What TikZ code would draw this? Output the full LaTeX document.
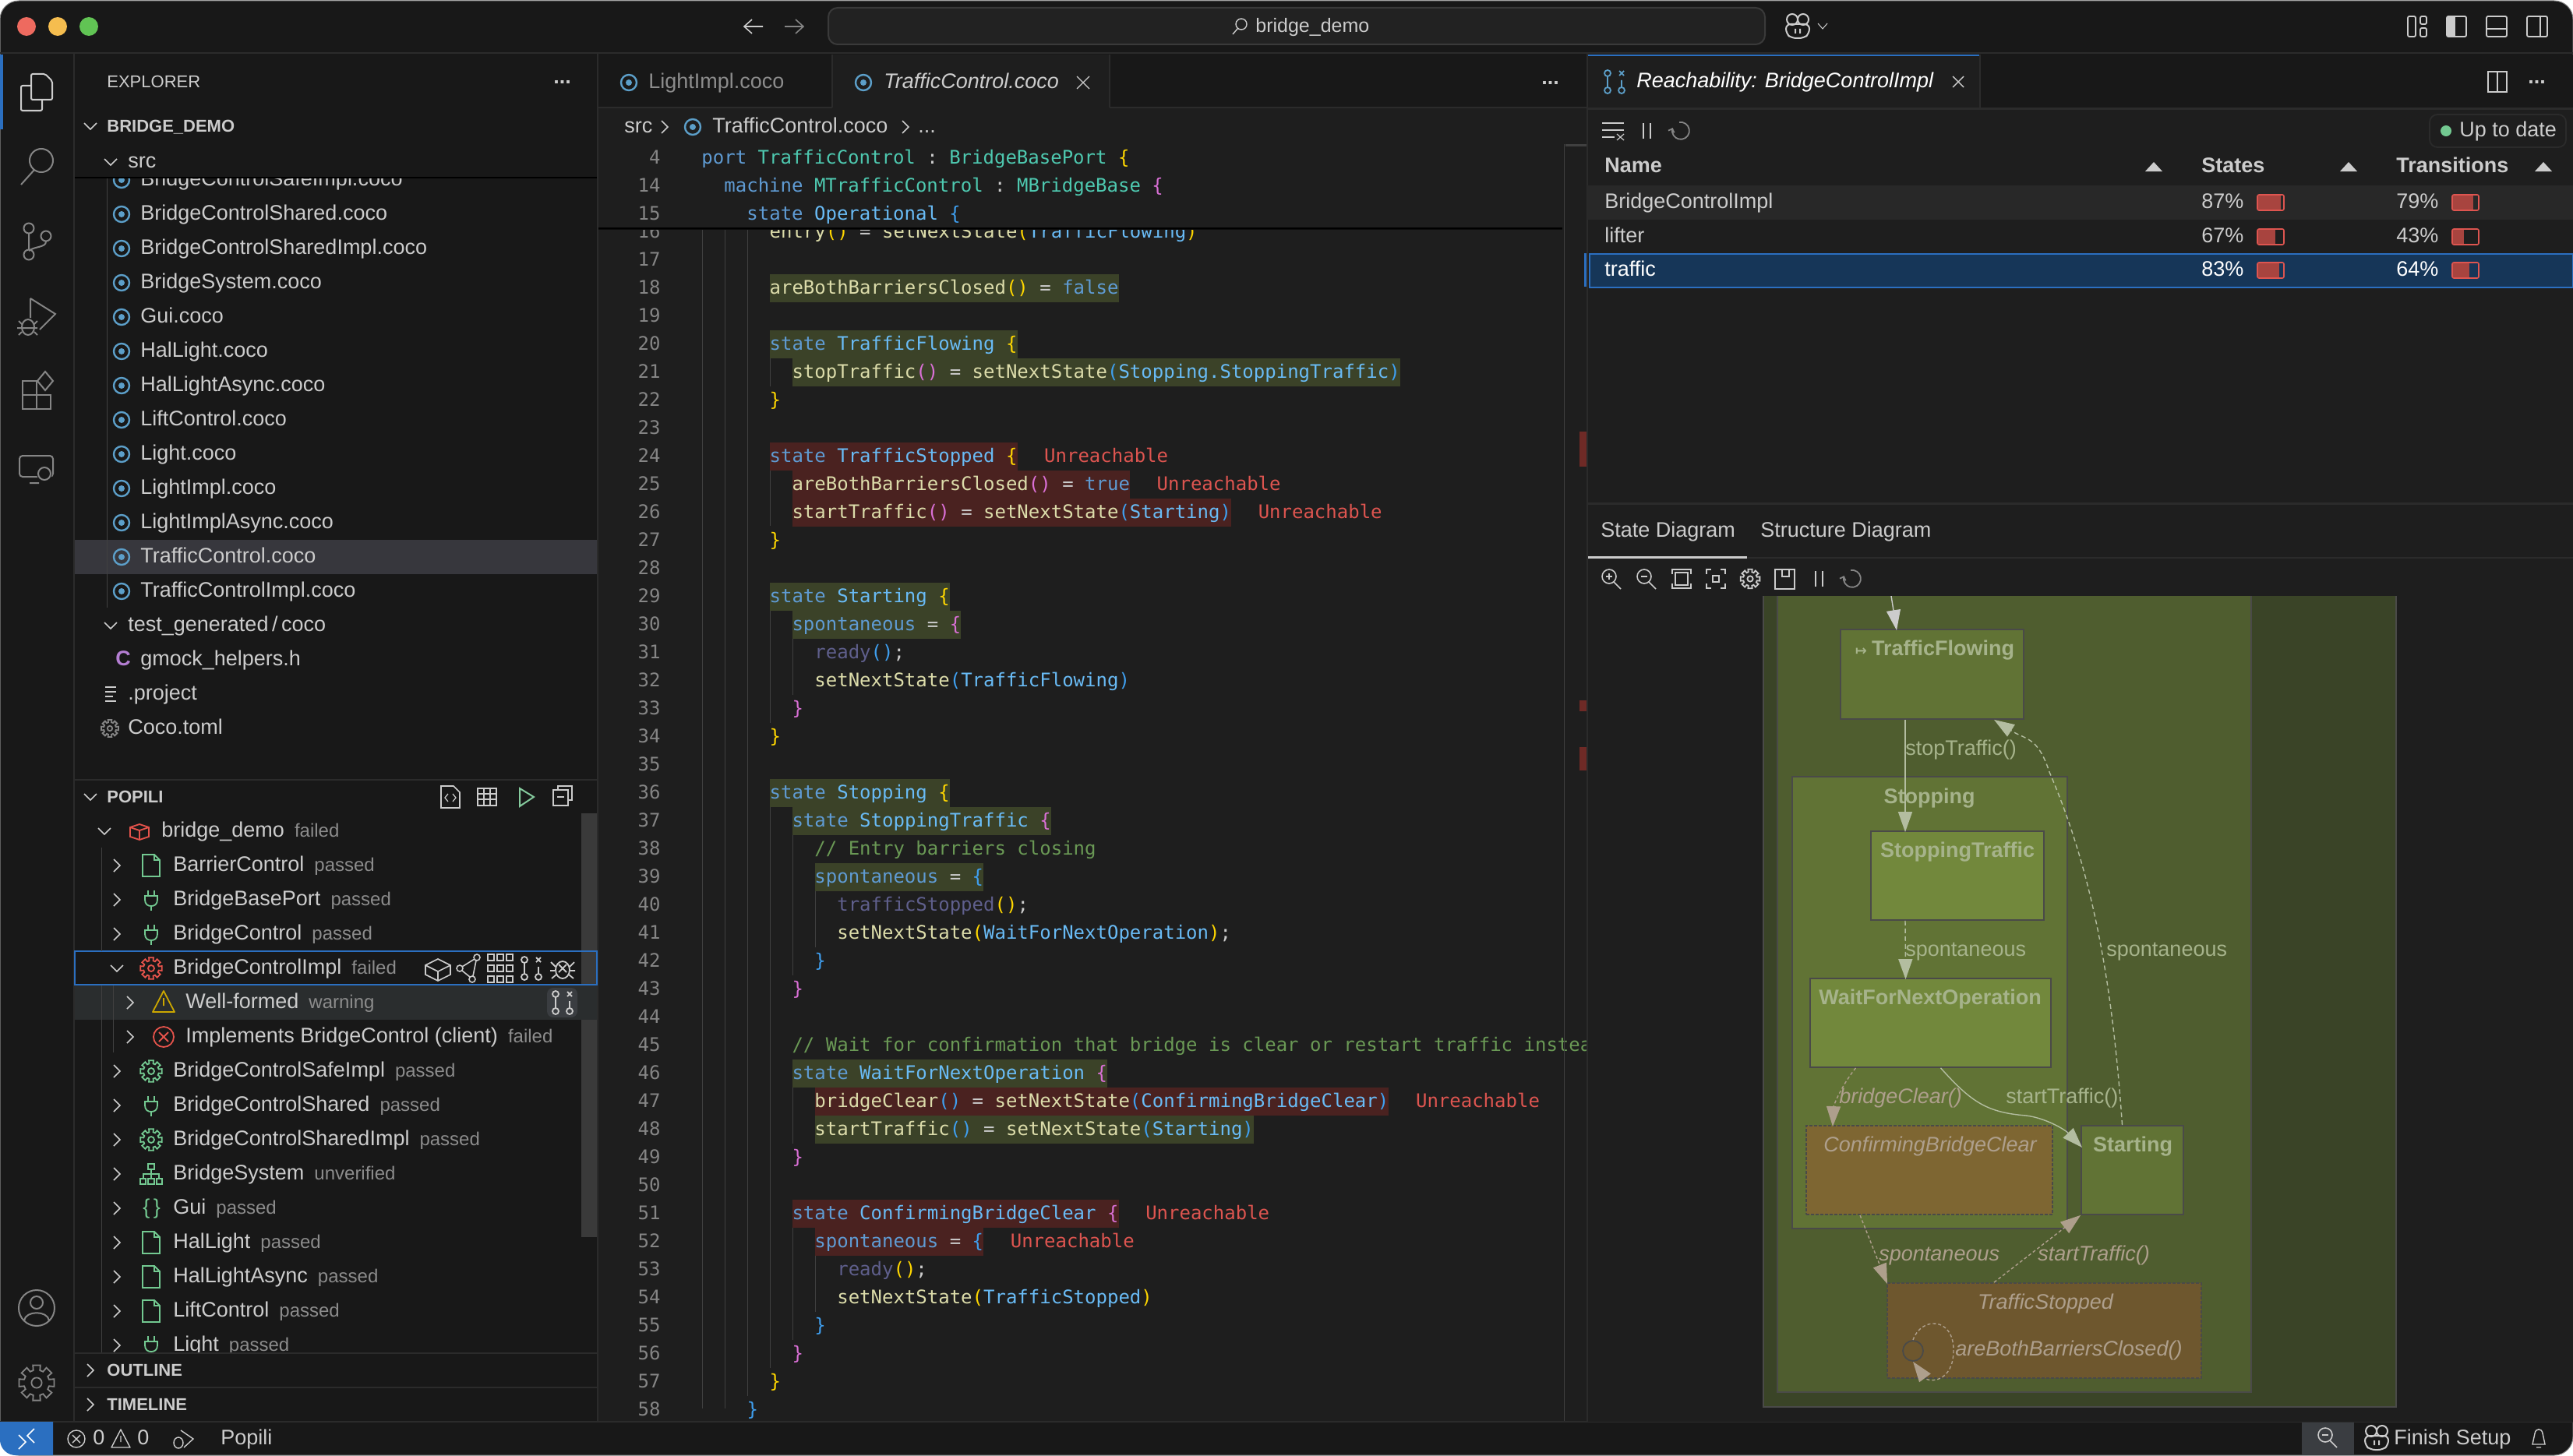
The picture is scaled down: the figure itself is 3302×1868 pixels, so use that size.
\documentclass[tikz,border=0pt]{standalone}
\usepackage{fontspec}
\setmainfont{Liberation Sans}
\setmonofont[Ligatures=NoCommon]{DejaVu Sans Mono}
\newfontfamily\symfont{DejaVu Sans}
\usetikzlibrary{arrows.meta,fit}

\definecolor{winbg}{HTML}{181818}
\definecolor{edbg}{HTML}{1E1E1E}
\definecolor{rule}{HTML}{2B2B2B}
\definecolor{uitext}{HTML}{CCCCCC}
\definecolor{uidim}{HTML}{8C8C8C}
\definecolor{uiicon}{HTML}{858585}
\definecolor{focus}{HTML}{2B6FC0}
\definecolor{cocoblue}{HTML}{5C9FC9}
\definecolor{icgreen}{HTML}{73C991}
\definecolor{icred}{HTML}{E5534B}
\definecolor{icyellow}{HTML}{CCA700}
\definecolor{hlgreen}{HTML}{3B4228}
\definecolor{hlred}{HTML}{4A2220}
\definecolor{ovred}{HTML}{6E2A26}
\definecolor{codeKw}{HTML}{5F9BD3}
\definecolor{codeNm}{HTML}{69BBF5}
\definecolor{codeTy}{HTML}{4EC9B0}
\definecolor{codeFn}{HTML}{DCDCAA}
\definecolor{codePu}{HTML}{CCCCCC}
\definecolor{codeYe}{HTML}{FFD700}
\definecolor{codePk}{HTML}{DA70D6}
\definecolor{codeBl}{HTML}{3F9FEF}
\definecolor{codeCm}{HTML}{6A9955}
\definecolor{codeDm}{HTML}{5F5F8C}
\definecolor{codeUn}{HTML}{DE5550}
\definecolor{lineno}{HTML}{858585}
\definecolor{guide}{HTML}{404040}
\definecolor{rowsel}{HTML}{163658}
\definecolor{rowalt}{HTML}{282828}
\definecolor{barfill}{HTML}{A8443F}
\definecolor{fileactive}{HTML}{37373D}
\definecolor{rowhover}{HTML}{2A2D2E}
\definecolor{rowbtn}{HTML}{3A3D41}
\definecolor{sbthumb}{HTML}{3A3A3A}
\definecolor{cmdbg}{HTML}{222222}
\definecolor{cmdline}{HTML}{3A3A3A}
\definecolor{lightred}{HTML}{EE6A5F}
\definecolor{lightamber}{HTML}{F5BD4F}
\definecolor{lightgreen}{HTML}{61C454}
\definecolor{stouter}{HTML}{3A4427}
\definecolor{stinner}{HTML}{4F5D2F}
\definecolor{stmid}{HTML}{617335}
\definecolor{stlight}{HTML}{72883C}
\definecolor{stbrown}{HTML}{7E6632}
\definecolor{stdark}{HTML}{6E572E}
\definecolor{stline}{HTML}{4A4A48}
\definecolor{sttxt}{HTML}{A6B38B}
\definecolor{stedge}{HTML}{B3BDA0}
\definecolor{stwarm}{HTML}{AE9F8C}

\newcommand{\uifont}{\fontsize{13.5}{16}\selectfont}
\newcommand{\dimfont}{\fontsize{12}{14}\selectfont}
\newcommand{\capfont}{\fontsize{11}{13}\selectfont}
\newcommand{\cKw}[1]{\textcolor{codeKw}{#1}}
\newcommand{\cNm}[1]{\textcolor{codeNm}{#1}}
\newcommand{\cTy}[1]{\textcolor{codeTy}{#1}}
\newcommand{\cFn}[1]{\textcolor{codeFn}{#1}}
\newcommand{\cPu}[1]{\textcolor{codePu}{#1}}
\newcommand{\cYe}[1]{\textcolor{codeYe}{#1}}
\newcommand{\cPk}[1]{\textcolor{codePk}{#1}}
\newcommand{\cBl}[1]{\textcolor{codeBl}{#1}}
\newcommand{\cCm}[1]{\textcolor{codeCm}{#1}}
\newcommand{\cDm}[1]{\textcolor{codeDm}{#1}}
\newcommand{\codeln}[3]{\node[codetext] (code#1) at ({900.5+14.45*#2},{332+36*(#1-17)}) {#3};}
\newcommand{\unreach}[2]{\node[codetext,text=codeUn] (unreach#1) at ({900.5+14.45*#2},{332+36*(#1-17)}) {Unreachable};}
\newcommand{\hlite}[4]{\fill[#1] ({901+14.45*#3},{316+36*(#2-17)}) rectangle ({901+14.45*#4},{352+36*(#2-17)});}
\newcommand{\cocoic}[2]{\draw[cocoblue,line width=1.2pt] (#1,#2) circle (10);\fill[cocoblue] (#1,#2) circle (4);}
\newcommand{\chevright}[2]{\draw[uitext,line width=.8pt] ({#1-4},{#2-8}) -- ({#1+4},#2) -- ({#1-4},{#2+8});}
\newcommand{\chevdown}[2]{\draw[uitext,line width=.8pt] ({#1-8},{#2-4}) -- (#1,{#2+4}) -- ({#1+8},{#2-4});}
\newcommand{\fileic}[3]{\begin{scope}[shift={(#1,#2)},color=#3,line width=.9pt]
  \draw (-11,-14) -- (4,-14) -- (11,-7) -- (11,14) -- (-11,14) -- cycle;
  \draw (4,-14) -- (4,-7) -- (11,-7);
\end{scope}}
\newcommand{\plugic}[3]{\begin{scope}[shift={(#1,#2)},color=#3,line width=.9pt]
  \draw (-8,-5) -- (8,-5) -- (8,0) .. controls (8,6) and (4,8) .. (0,8) .. controls (-4,8) and (-8,6) .. (-8,0) -- cycle;
  \draw (-4,-5) -- (-4,-12) (4,-5) -- (4,-12) (0,8) -- (0,14);
\end{scope}}
\newcommand{\gearic}[4][1]{\begin{scope}[shift={(#2,#3)},scale=#1,color=#4,line width=.9pt]
  \draw (-12:14) \foreach \a in {0,45,...,315} { -- (\a-12:14) -- (\a+12:14) -- (\a+15:10) -- (\a+30:10) } -- cycle;
  \draw (0,0) circle (4);
\end{scope}}
\newcommand{\treeic}[3]{\begin{scope}[shift={(#1,#2)},color=#3,line width=.9pt]
  \draw (-4,-13) rectangle (4,-6) (-14,6) rectangle (-7,13) (-4,6) rectangle (4,13) (7,6) rectangle (14,13);
  \draw (0,-6) -- (0,6) (-10,6) -- (-10,0) -- (10,0) -- (10,6);
\end{scope}}
\newcommand{\braceic}[3]{\node[uilabel,text=#3] (brace#2) at ({#1-11},#2) {\{\,\}};}
\newcommand{\reachic}[3]{\begin{scope}[shift={(#1,#2)},color=#3,line width=.9pt]
  \draw (-9,-11) circle (4) (-9,11) circle (4) (9,11) circle (4) (-9,-7) -- (-9,7) (9,-2) -- (9,7);
  \draw (6,-14) -- (12,-8) (12,-14) -- (6,-8);
\end{scope}}
\newcommand{\bugic}[3]{\begin{scope}[shift={(#1,#2)},color=#3,line width=.9pt]
  \draw (0,2) ellipse (9 and 11);
  \draw (-5,-5) -- (5,5) (5,-5) -- (-5,5);
  \draw (-9,-2) -- (-15,-8) (9,-2) -- (15,-8) (-10,3) -- (-16,3) (10,3) -- (16,3) (-8,8) -- (-14,13) (8,8) -- (14,13);
\end{scope}}
\newcommand{\zoomic}[3]{\begin{scope}[shift={(#1,#2)},color=uitext,line width=.8pt]
  \draw (-3,-3) circle (9) (3,4) -- (12,13);
  \draw (-7,-3) -- (1,-3);
  \ifnum#3=1 \draw (-3,-7) -- (-3,1);\fi
\end{scope}}
\newcommand{\copilotic}[2]{\begin{scope}[shift={(#1,#2)},color=uitext,line width=1pt]
  \draw[rounded corners=3pt] (-15,-3) -- (-15,9) -- (-8,15) -- (8,15) -- (15,9) -- (15,-3) -- cycle;
  \draw (-7,-9) circle (7) (7,-9) circle (7);
  \fill (-4,3) rectangle (-2,9) (2,3) rectangle (4,9);
\end{scope}}
\newcommand{\refreshic}[2]{\draw[uiicon,line width=.9pt,-{Straight Barb[length=2pt]}] ({#1-2},{#2-11}) arc (-100:200:11);}

\begin{document}
\begin{tikzpicture}[x=.5pt,y=-.5pt,
  uilabel/.style = {anchor=base west,inner sep=0pt,yshift=-3.75pt,font=\uifont,text=uitext},
  capslabel/.style = {uilabel,font=\capfont},
  headlabel/.style = {uilabel,font=\capfont\bfseries},
  codetext/.style = {anchor=base west,inner sep=0pt,yshift=-4.5pt,font=\ttfamily\fontsize{12}{14}\selectfont,text=codePu},
  numtext/.style = {anchor=base east,inner sep=0pt,yshift=-4.5pt,font=\ttfamily\fontsize{12}{14}\selectfont,text=lineno},
  stbox/.style = {draw=stline,line width=.9pt,inner sep=0pt},
  stunreach/.style = {stbox,dash pattern=on 2pt off 1pt},
  sttitle/.style = {inner sep=0pt,yshift=-.75pt,font=\uifont\bfseries,text=sttxt},
  stlabel/.style = {uilabel,text=sttxt},
  stwarmlabel/.style = {uilabel,font=\uifont\itshape,text=stwarm},
  trans/.style = {line width=.7pt,draw=#1,-{Triangle[length=13pt,width=9pt,fill=#1]}}]

  \useasboundingbox (0,0) rectangle (3302,1868);
  \fill[white] (0,0) rectangle (3302,1868);
  \fill[winbg,draw=uiicon,line width=.5pt,rounded corners=12pt] (0,1) rectangle (3302,1868);

  \draw[rule,line width=1pt] (0,68) -- (3302,68);
  \draw[rule,line width=1pt] (0,1825) -- (3302,1825);
  \draw[rule,line width=1pt] (95,68) -- (95,1825);
  \draw[rule,line width=1pt] (767,68) -- (767,1825);

  \fill[edbg] (768,138) rectangle (2037,1824);
  \draw[rule,line width=1pt] (768,138) -- (1068,138) (1424,138) -- (2037,138);
  \fill[edbg] (1068,70) rectangle (1424,139);
  \draw[rule,line width=1pt] (1068,70) -- (1068,138) (1424,70) -- (1424,138);

  \foreach \n in {16,...,58} {
    \node[numtext] (num\n) at (848,{332+36*(\n-17)}) {\n};
  }
  \draw[guide,line width=.5pt] (901,292) -- (901,1808) (930,292) -- (930,1808) (959,292) -- (959,1792);
  \draw[guide,line width=.5pt] (988,460) -- (988,496) (988,604) -- (988,675) (988,784) -- (988,928) (988,1036) -- (988,1756);
  \draw[guide,line width=.5pt] (1017,820) -- (1017,892) (1017,1071) -- (1017,1252) (1017,1396) -- (1017,1468) (1017,1576) -- (1017,1720);
  \draw[guide,line width=.5pt] (1046,1144) -- (1046,1216) (1046,1612) -- (1046,1684);

  \hlite{hlgreen}{18}{6}{37}
  \hlite{hlgreen}{20}{6}{28}
  \hlite{hlgreen}{21}{8}{62}
  \hlite{hlred}{24}{6}{28}
  \hlite{hlred}{25}{8}{38}
  \hlite{hlred}{26}{8}{47}
  \hlite{hlgreen}{29}{6}{22}
  \hlite{hlgreen}{30}{8}{23}
  \hlite{hlgreen}{36}{6}{22}
  \hlite{hlgreen}{37}{8}{31}
  \hlite{hlgreen}{39}{10}{25}
  \hlite{hlgreen}{46}{8}{36}
  \hlite{hlred}{47}{10}{61}
  \hlite{hlgreen}{48}{10}{49}
  \hlite{hlred}{51}{8}{37}
  \hlite{hlred}{52}{10}{25}

  \codeln{16}{6}{\cFn{entry}\cYe{()} = \cFn{setNextState}\cYe{(}\cNm{TrafficFlowing}\cYe{)}}
  \codeln{18}{6}{\cFn{areBothBarriersClosed}\cYe{()} = \cKw{false}}
  \codeln{20}{6}{\cKw{state} \cNm{TrafficFlowing} \cYe{\{}}
  \codeln{21}{8}{\cFn{stopTraffic}\cPk{()} = \cFn{setNextState}\cBl{(}\cNm{Stopping.StoppingTraffic}\cBl{)}}
  \codeln{22}{6}{\cYe{\}}}
  \codeln{24}{6}{\cKw{state} \cNm{TrafficStopped} \cYe{\{}}
  \codeln{25}{8}{\cFn{areBothBarriersClosed}\cPk{()} = \cKw{true}}
  \codeln{26}{8}{\cFn{startTraffic}\cPk{()} = \cFn{setNextState}\cBl{(}\cNm{Starting}\cBl{)}}
  \codeln{27}{6}{\cYe{\}}}
  \codeln{29}{6}{\cKw{state} \cNm{Starting} \cYe{\{}}
  \codeln{30}{8}{\cKw{spontaneous} = \cPk{\{}}
  \codeln{31}{10}{\cDm{ready}\cBl{()};}
  \codeln{32}{10}{\cFn{setNextState}\cBl{(}\cNm{TrafficFlowing}\cBl{)}}
  \codeln{33}{8}{\cPk{\}}}
  \codeln{34}{6}{\cYe{\}}}
  \codeln{36}{6}{\cKw{state} \cNm{Stopping} \cYe{\{}}
  \codeln{37}{8}{\cKw{state} \cNm{StoppingTraffic} \cPk{\{}}
  \codeln{38}{10}{\cCm{// Entry barriers closing}}
  \codeln{39}{10}{\cKw{spontaneous} = \cBl{\{}}
  \codeln{40}{12}{\cDm{trafficStopped}\cYe{()};}
  \codeln{41}{12}{\cFn{setNextState}\cYe{(}\cNm{WaitForNextOperation}\cYe{)};}
  \codeln{42}{10}{\cBl{\}}}
  \codeln{43}{8}{\cPk{\}}}
  \codeln{45}{8}{\cCm{// Wait for confirmation that bridge is clear or restart traffic instea}}
  \codeln{46}{8}{\cKw{state} \cNm{WaitForNextOperation} \cPk{\{}}
  \codeln{47}{10}{\cFn{bridgeClear}\cBl{()} = \cFn{setNextState}\cBl{(}\cNm{ConfirmingBridgeClear}\cBl{)}}
  \codeln{48}{10}{\cFn{startTraffic}\cBl{()} = \cFn{setNextState}\cBl{(}\cNm{Starting}\cBl{)}}
  \codeln{49}{8}{\cPk{\}}}
  \codeln{51}{8}{\cKw{state} \cNm{ConfirmingBridgeClear} \cPk{\{}}
  \codeln{52}{10}{\cKw{spontaneous} = \cBl{\{}}
  \codeln{53}{12}{\cDm{ready}\cYe{()};}
  \codeln{54}{12}{\cFn{setNextState}\cYe{(}\cNm{TrafficStopped}\cYe{)}}
  \codeln{55}{10}{\cBl{\}}}
  \codeln{56}{8}{\cPk{\}}}
  \codeln{57}{6}{\cYe{\}}}
  \codeln{58}{4}{\cBl{\}}}
  \unreach{24}{30.4}
  \unreach{25}{40.4}
  \unreach{26}{49.4}
  \unreach{47}{63.4}
  \unreach{51}{39.4}
  \unreach{52}{27.4}

  \fill[edbg] (768,139) rectangle (2005,292);
  \fill[black] (768,292) rectangle (2005,294);
  \fill[black!60!edbg] (768,294) rectangle (2005,295);
  \foreach \n/\y in {4/201,14/237,15/273} {
    \node[numtext] (sticky\n) at (848,\y) {\n};
  }
  \node[codetext] (stickyport) at (900,201) {\cKw{port} \cTy{TrafficControl} : \cTy{BridgeBasePort} \cYe{\{}};
  \node[codetext] (stickymachine) at (929,237) {\cKw{machine} \cTy{MTrafficControl} : \cTy{MBridgeBase} \cPk{\{}};
  \node[codetext] (stickystate) at (958,273) {\cKw{state} \cNm{Operational} \cBl{\{}};

  \node[uilabel,text=uidim] (tabone) at (832,106) {LightImpl.coco};
  \node[uilabel,font=\uifont\itshape] (tabtwo) at (1134,106) {TrafficControl.coco};
  \cocoic{807}{106}
  \cocoic{1108}{106}
  \draw[uitext,line width=.6pt] (1382,98) -- (1398,114) (1398,98) -- (1382,114);
  \node[uilabel,text=uitext] (tabmore) at (1978,101) {\textbf{...}};
  \node[uilabel] (crumbsrc) at (801,163) {src};
  \chevright{853}{163}
  \cocoic{889}{163}
  \node[uilabel] (crumbfile) at (914,163) {TrafficControl.coco};
  \chevright{1162}{163}
  \node[uilabel] (crumbmore) at (1178,163) {...};

  \draw[guide,line width=.4pt] (2007,185) -- (2007,1824);
  \fill[guide] (2009,185) rectangle (2037,188);
  \fill[focus] (2033,325) rectangle (2037,368);
  \fill[ovred] (2027,554) rectangle (2037,599);
  \fill[ovred] (2027,899) rectangle (2037,913);
  \fill[ovred] (2027,959) rectangle (2037,989);

  \fill[edbg] (2037,70) rectangle (3302,1825);
  \fill[winbg] (2037,70) rectangle (3302,138);
  \fill[edbg] (2037,70) rectangle (2541,139);
  \fill[focus] (2037,70) rectangle (2541,72);
  \draw[rule,line width=1pt] (2541,70) -- (2541,139);
  \draw[rule,line width=1.5pt] (2037,140) -- (3302,140);
  \draw[rule,line width=1pt] (2037,68) -- (2037,1825);
  \reachic{2072}{105}{cocoblue}
  \node[uilabel,font=\uifont\itshape,text=white] (reachtitle) at (2100,105) {Reachability: BridgeControlImpl};
  \draw[uitext,line width=.7pt] (2506,98) -- (2520,112) (2520,98) -- (2506,112);
  \draw[uitext,line width=.8pt] (3193,92) rectangle (3217,118) (3205,92) -- (3205,118);
  \node[uilabel] (reachmore) at (3244,100) {\textbf{...}};

  \draw[uitext,line width=.8pt] (2056,158) -- (2084,158) (2056,167) -- (2084,167) (2056,176) -- (2072,176);
  \draw[uitext,line width=.6pt] (2075,172) -- (2084,180) (2084,172) -- (2075,180);
  \draw[uitext,line width=.9pt] (2109,158) -- (2109,178) (2118,158) -- (2118,178);
  \refreshic{2157}{168}
  \fill[edbg,draw=rule,line width=.9pt,rounded corners=5pt] (3118,147) rectangle (3293,189);
  \fill[icgreen] (3139,168) circle (7);
  \node[uilabel] (uptodate) at (3156,168) {Up to date};

  \node[uilabel,font=\uifont\bfseries] (colname) at (2059,214) {Name};
  \node[uilabel,font=\uifont\bfseries] (colstates) at (2825,214) {States};
  \node[uilabel,font=\uifont\bfseries] (coltrans) at (3075,214) {Transitions};
  \foreach \x in {2764,3014,3264} {
    \fill[uitext] ({\x-11},220) -- ({\x+11},220) -- (\x,208) -- cycle;
  }
  \fill[rowalt] (2037,238) rectangle (3302,282);
  \fill[rowsel] (2040,326) rectangle (3302,369);
  \draw[focus,line width=1pt] (2040,326) rectangle (3302,369);
  \foreach \y/\rowt/\spc/\sfr/\tpc/\tfr/\rowc in {260/BridgeControlImpl/87/.87/79/.79/uitext,304/lifter/67/.67/43/.43/uitext,347/traffic/83/.83/64/.64/white} {
    \node[uilabel,text=\rowc] (row\y) at (2059,\y) {\rowt};
    \node[uilabel,text=\rowc] (rowstates\y) at (2825,\y) {\spc\%};
    \node[uilabel,text=\rowc] (rowtrans\y) at (3075,\y) {\tpc\%};
    \fill[barfill] (2897,{\y-10}) rectangle ({2897+34*\sfr},{\y+10});
    \draw[codeUn,line width=.8pt,rounded corners=1pt] (2897,{\y-10}) rectangle (2931,{\y+10});
    \fill[barfill] (3147,{\y-10}) rectangle ({3147+34*\tfr},{\y+10});
    \draw[codeUn,line width=.8pt,rounded corners=1pt] (3147,{\y-10}) rectangle (3181,{\y+10});
  }

  \draw[rule,line width=1.5pt] (2037,646) -- (3302,646);
  \node[uilabel] (tabstate) at (2054,682) {State Diagram};
  \node[uilabel] (tabstructure) at (2259,682) {Structure Diagram};
  \draw[rule,line width=1pt] (2037,716) -- (3302,716);
  \fill[uitext] (2038,714) rectangle (2242,717);
  \zoomic{2068}{743}{1}
  \zoomic{2113}{743}{0}
  \draw[uitext,line width=.8pt] (2150,735) rectangle (2166,751);
  \draw[uitext,line width=.8pt] (2146,737) -- (2146,731) -- (2170,731) -- (2170,737) (2146,749) -- (2146,755) -- (2170,755) -- (2170,749);
  \draw[uitext,line width=.8pt] (2198,739) rectangle (2206,747);
  \draw[uitext,line width=.8pt] (2190,737) -- (2190,731) -- (2196,731) (2208,731) -- (2214,731) -- (2214,737) (2214,749) -- (2214,755) -- (2208,755) (2196,755) -- (2190,755) -- (2190,749);
  \gearic[.9]{2246}{743}{uitext}
  \draw[uitext,line width=.8pt] (2278,731) rectangle (2303,756) (2287,731) -- (2287,740) -- (2296,740) -- (2296,731);
  \draw[uitext,line width=.9pt] (2330,733) -- (2330,753) (2339,733) -- (2339,753);
  \refreshic{2377}{743}

  \begin{scope}
    \clip (2250,765) rectangle (3090,1820);
    \node[stbox,fill=stouter,fit={(2263,750)(3075,1806)}] (machine) {};
    \node[stbox,fill=stinner,fit={(2281,750)(2889,1787)}] (operational) {};
    \node[stbox,fill=stmid,fit={(2362,808)(2597,923)}] (flowing) {};
    \node[stbox,fill=stmid,fit={(2300,997)(2653,1577)}] (stopping) {};
    \node[stbox,fill=stlight,fit={(2401,1067)(2623,1181)}] (stoptraffic) {};
    \node[stbox,fill=stlight,fit={(2323,1256)(2632,1370)}] (waitop) {};
    \node[stunreach,fill=stbrown,fit={(2318,1445)(2634,1559)}] (confirming) {};
    \node[stbox,fill=stmid,fit={(2671,1445)(2802,1559)}] (starting) {};
    \node[stunreach,fill=stdark,fit={(2422,1647)(2825,1769)}] (stopped) {};
    \node[draw=stline,line width=.9pt,circle,inner sep=0pt,minimum size=13pt] (choice) at (2455,1734) {};
    \coordinate (entry) at (2427,765);
    \node[sttitle] (flowingtitle) at (2483,833) {\symfont\fontsize{9}{10}\selectfont ↦\ \uifont\bfseries\rmfamily TrafficFlowing};
    \node[sttitle] (stoppingtitle) at (2476,1023) {Stopping};
    \node[sttitle] (stoptraffictitle) at (2512,1092) {StoppingTraffic};
    \node[sttitle] (waitoptitle) at (2477,1281) {WaitForNextOperation};
    \node[sttitle,font=\uifont\itshape,text=stwarm] (confirmingtitle) at (2477,1470) {ConfirmingBridgeClear};
    \node[sttitle] (startingtitle) at (2737,1470) {Starting};
    \node[sttitle,font=\uifont\itshape,text=stwarm] (stoppedtitle) at (2625,1672) {TrafficStopped};
    \draw[trans=uitext] (entry) -- ([xshift=-22.75pt,yshift=-1pt]flowing.north);
    \draw[trans=stedge] ([xshift=-17.25pt]flowing.south) -- ([xshift=-33.5pt,yshift=-1pt]stoptraffic.north);
    \draw[trans=stedge,dash pattern=on 3pt off 2pt] ([xshift=-33.5pt]stoptraffic.south) -- ([xshift=-16pt,yshift=-1pt]waitop.north);
    \draw[trans=stedge,dash pattern=on 3pt off 2pt] ([xshift=-6.5pt]starting.north) .. controls (2712,1280) and (2690,1130) .. (2630,991) .. controls (2615,945) and (2600,950) .. ([xshift=39.75pt]flowing.south);
    \draw[trans=stwarm,dash pattern=on 2pt off 1.5pt] ([xshift=-48pt]waitop.south) .. controls (2362,1395) and (2353,1420) .. ([xshift=-62pt,yshift=-1pt]confirming.north);
    \draw[trans=stedge] ([xshift=6.5pt]waitop.south) .. controls (2530,1415) and (2550,1428) .. (2600,1432) .. controls (2625,1435) and (2650,1450) .. ([xshift=1pt,yshift=14.5pt]starting.west);
    \draw[trans=stwarm,dash pattern=on 2pt off 1.5pt] ([xshift=-44.5pt]confirming.south) -- ([xshift=-100.75pt,yshift=-1pt]stopped.north);
    \draw[trans=stwarm,dash pattern=on 2pt off 1.5pt] ([xshift=-32.25pt]stopped.north) -- (starting.south west);
    \draw[trans=stwarm,dash pattern=on 2pt off 1.5pt] (choice.north) .. controls (2465,1690) and (2507,1690) .. (2507,1733) .. controls (2507,1775) and (2475,1775) .. (choice.south);
    \node[stlabel] (lblstop) at (2445,962) {stopTraffic()};
    \node[stlabel] (lblspont) at (2445,1220) {spontaneous};
    \node[stlabel] (lblspontr) at (2703,1220) {spontaneous};
    \node[stwarmlabel] (lblclear) at (2360,1409) {bridgeClear()};
    \node[stlabel] (lblstart) at (2574,1409) {startTraffic()};
    \node[stwarmlabel] (lblspontw) at (2411,1611) {spontaneous};
    \node[stwarmlabel] (lblstartw) at (2615,1611) {startTraffic()};
    \node[stwarmlabel] (lblclosed) at (2509,1733) {areBothBarriersClosed()};
  \end{scope}

  \fill[fileactive] (96,693) rectangle (766,737);
  \draw[guide,line width=.5pt] (137,228) -- (137,780);
  \foreach \y/\n in {231/BridgeControlSafeImpl.coco,275/BridgeControlShared.coco,319/BridgeControlSharedImpl.coco,363/BridgeSystem.coco,407/Gui.coco,451/HalLight.coco,495/HalLightAsync.coco,539/LiftControl.coco,583/Light.coco,627/LightImpl.coco,671/LightImplAsync.coco,715/TrafficControl.coco,759/TrafficControlImpl.coco} {
    \cocoic{156}{\y}
    \node[uilabel] (file\y) at (180,\y) {\n};
  }
  \fill[winbg] (96,69) rectangle (766,227);
  \fill[black] (96,227) rectangle (766,229);
  \node[capslabel] (explorer) at (137,105) {EXPLORER};
  \node[uilabel] (explorermore) at (710,100) {\textbf{...}};
  \chevdown{116}{162}
  \node[headlabel] (project) at (137,162) {BRIDGE\_DEMO};
  \chevdown{142}{208}
  \node[uilabel] (srcdir) at (164,208) {src};
  \chevdown{142}{803}
  \node[uilabel] (gendir) at (164,803) {test\_generated\,/\,coco};
  \node[uilabel,text=codePk!70!cocoblue,font=\uifont\bfseries] (cicon) at (148,847) {C};
  \node[uilabel] (gmock) at (180,847) {gmock\_helpers.h};
  \draw[uitext,line width=.7pt] (135,882) -- (149,882) (135,888) -- (149,888) (135,894) -- (145,894) (135,900) -- (149,900);
  \node[uilabel] (dotproject) at (164,891) {.project};
  \gearic[.8]{141}{935}{uiicon}
  \node[uilabel] (cocotoml) at (164,935) {Coco.toml};

  \draw[rule,line width=1pt] (96,1001) -- (766,1001);
  \chevdown{116}{1023}
  \node[headlabel] (popili) at (137,1023) {POPILI};
  \draw[uitext,line width=.8pt] (566,1009) -- (582,1009) -- (590,1017) -- (590,1037) -- (566,1037) -- cycle;
  \draw[uitext,line width=.6pt] (575,1019) -- (571,1024) -- (575,1029) (581,1019) -- (585,1024) -- (581,1029);
  \draw[uitext,line width=.8pt] (613,1012) rectangle (637,1034) (613,1019) -- (637,1019) (613,1026) -- (637,1026) (621,1012) -- (621,1034) (629,1012) -- (629,1034);
  \draw[icgreen!80!uitext,line width=1pt] (667,1012) -- (685,1023) -- (667,1035) -- cycle;
  \draw[uitext,line width=.8pt] (716,1014) -- (716,1009) -- (734,1009) -- (734,1027) -- (729,1027) (710,1014) rectangle (729,1034) (715,1023) -- (724,1023);
  \fill[sbthumb] (746,1044) rectangle (766,1588);

  \fill[rowhover] (96,1265) rectangle (746,1309);
  \fill[rowhover] (746,1265) rectangle (766,1309);
  \draw[focus,line width=.9pt] (96,1221) rectangle (766,1264);
  \draw[guide,line width=.5pt] (130,1088) -- (130,1221) (130,1265) -- (130,1736) (145,1265) -- (145,1351);

  \chevdown{134}{1067}
  \draw[icred,line width=.9pt] (167,1062) -- (179,1058) -- (191,1062) -- (191,1074) -- (179,1078) -- (167,1074) -- cycle (167,1062) -- (179,1066) -- (191,1062) (179,1066) -- (179,1078);
  \node[uilabel] (demo) at (207,1067) {bridge\_demo\hspace{6.5pt}\textcolor{uidim}{\dimfont failed}};
  \foreach \y/\ic/\n/\rowst in {1111/fileic/BarrierControl/passed,1155/plugic/BridgeBasePort/passed,1199/plugic/BridgeControl/passed,1375/gearic/BridgeControlSafeImpl/passed,1419/plugic/BridgeControlShared/passed,1463/gearic/BridgeControlSharedImpl/passed,1507/treeic/BridgeSystem/unverified,1551/braceic/Gui/passed,1595/fileic/HalLight/passed,1639/fileic/HalLightAsync/passed,1683/fileic/LiftControl/passed,1727/plugic/Light/passed} {
    \chevright{150}{\y}
    \csname\ic\endcsname{194}{\y}{icgreen}
    \node[uilabel] (comp\y) at (222,\y) {\n\hspace{6.5pt}\textcolor{uidim}{\dimfont\rowst}};
  }
  \chevdown{150}{1243}
  \gearic{194}{1243}{icred}
  \node[uilabel] (compimpl) at (222,1243) {BridgeControlImpl\hspace{6.5pt}\textcolor{uidim}{\dimfont failed}};
  \draw[uitext,line width=.8pt] (546,1239) -- (562,1231) -- (578,1239) -- (578,1251) -- (562,1259) -- (546,1251) -- cycle (546,1239) -- (562,1247) -- (578,1239) (562,1247) -- (562,1259);
  \draw[uitext,line width=.8pt] (590,1243) circle (4) (612,1229) circle (4) (606,1257) circle (4) (593,1241) -- (609,1231) (593,1246) -- (603,1254) (611,1233) -- (607,1253);
  \foreach \cx in {630,642,654} { \foreach \cy in {1229,1243,1257} {
    \draw[uitext,line width=.8pt] ({\cx-4},{\cy-4}) rectangle ({\cx+4},{\cy+4});
  } }
  \reachic{682}{1243}{uitext}
  \bugic{722}{1243}{uitext}

  \chevright{167}{1287}
  \draw[icyellow,line width=.9pt,line join=round] (210,1272) -- (224,1299) -- (196,1299) -- cycle (210,1281) -- (210,1291);
  \node[uilabel] (wellformed) at (238,1287) {Well-formed\hspace{6.5pt}\textcolor{uidim}{\dimfont warning}};
  \fill[rowbtn,rounded corners=4pt] (702,1268) rectangle (741,1306);
  \reachic{722}{1287}{uitext}
  \chevright{167}{1331}
  \draw[icred,line width=.9pt] (210,1331) circle (13) (204,1325) -- (216,1337) (216,1325) -- (204,1337);
  \node[uilabel] (implements) at (238,1331) {Implements BridgeControl (client)\hspace{6.5pt}\textcolor{uidim}{\dimfont failed}};

  \fill[winbg] (96,1737) rectangle (766,1824);
  \draw[rule,line width=1pt] (96,1737) -- (766,1737) (96,1781) -- (766,1781);
  \chevright{116}{1759}
  \node[headlabel] (outline) at (137,1759) {OUTLINE};
  \chevright{116}{1803}
  \node[headlabel] (timeline) at (137,1803) {TIMELINE};

  \begin{scope}[color=uiicon,line width=1pt]
    \draw[uitext,rounded corners=1pt] (27,110) rectangle (54,142);
    \fill[winbg,draw=uitext,rounded corners=1pt] (40,95) -- (58,95) -- (67,104) -- (67,128) -- (40,128) -- cycle;
    \fill[focus] (0,70) rectangle (4,166);
    \draw (53,206) circle (15) (44,218) -- (27,237);
    \draw (37,293) circle (6.5) (59,303) circle (6.5) (37,327) circle (6.5) (37,300) -- (37,320) (59,310) .. controls (59,318) and (44,316) .. (37,322);
    \draw (39,383) -- (71,403) -- (51,423) (39,383) -- (39,408);
    \draw (36,420) ellipse (8 and 10) (24,412) -- (28,416) (48,412) -- (44,416) (24,430) -- (28,426) (48,430) -- (44,426) (22,421) -- (48,421);
    \draw (29,489) rectangle (47,507) (29,507) rectangle (47,525) (47,507) rectangle (65,525);
    \draw (58,477) -- (68,489) -- (58,501) -- (48,489) -- cycle;
    \draw[rounded corners=2pt] (25,585) rectangle (68,612) (38,620) -- (50,620);
    \fill[winbg] (57,608) circle (10);
    \draw (57,608) circle (8);
    \draw (47,1679) circle (23) (47,1672) circle (8) (31,1695) .. controls (33,1682) and (61,1682) .. (63,1695);
  \end{scope}
  \gearic[1.65]{47}{1775}{uiicon}

  \fill[lightred] (34,34) circle (12);
  \fill[lightamber] (74,34) circle (12);
  \fill[lightgreen] (114,34) circle (12);
  \draw[uitext,line width=.8pt] (955,34) -- (979,34) (965,25) -- (955,34) -- (965,43);
  \draw[uiicon,line width=.8pt] (1007,34) -- (1031,34) (1021,25) -- (1031,34) -- (1021,43);
  \fill[cmdbg,draw=cmdline,line width=1pt,rounded corners=6pt] (1063,10) rectangle (2265,57);
  \draw[uitext,line width=.7pt] (1593,31) circle (7) (1588,37) -- (1582,44);
  \node[uilabel,font=\fontsize{12.5}{15}\selectfont] (cmdcenter) at (1611,34) {bridge\_demo};
  \copilotic{2307}{34}
  \draw[uitext,line width=.5pt] (2333,30) -- (2339,37) -- (2345,30);
  \draw[uitext,line width=.9pt,rounded corners=1pt] (3090,21) rectangle (3100,47) (3106,21) rectangle (3114,31) (3106,36) rectangle (3114,47);
  \draw[uitext,line width=.9pt,rounded corners=1pt] (3140,21) rectangle (3165,47);
  \fill[uitext] (3140,21) rectangle (3151,47);
  \draw[uitext,line width=.9pt,rounded corners=1pt] (3191,21) rectangle (3217,47) (3191,37) -- (3217,37);
  \draw[uitext,line width=.9pt,rounded corners=1pt] (3243,21) rectangle (3269,47) (3260,21) -- (3260,47);

  \fill[focus] (0,1825) -- (68,1825) -- (68,1868) [rounded corners=10pt] -- (0,1868) [sharp corners] -- cycle;
  \draw[white,line width=.8pt] (24,1842) -- (33,1851) -- (24,1860) (44,1834) -- (35,1843) -- (44,1852);
  \draw[uitext,line width=.7pt] (98,1847) circle (11) (93,1842) -- (103,1852) (103,1842) -- (93,1852);
  \node[uilabel] (errcount) at (119,1847) {0};
  \draw[uitext,line width=.7pt,line join=round] (155,1835) -- (167,1858) -- (143,1858) -- cycle (155,1843) -- (155,1851);
  \node[uilabel] (warncount) at (176,1847) {0};
  \draw[uitext,line width=.7pt] (232,1836) -- (248,1847) -- (236,1858);
  \draw[uitext,line width=.7pt] (229,1852) ellipse (6 and 7);
  \node[uilabel] (statuspopili) at (283,1847) {Popili};
  \fill[rowbtn] (2954,1826) rectangle (3021,1868);
  \zoomic{2987}{1845}{0}
  \copilotic{3050}{1846}
  \node[uilabel] (finish) at (3072,1847) {Finish Setup};
  \draw[uitext,line width=.7pt] (3250,1854) -- (3253,1840) .. controls (3254,1833) and (3262,1833) .. (3263,1840) -- (3266,1854) -- cycle (3255,1858) -- (3261,1858);
\end{tikzpicture}
\end{document}
